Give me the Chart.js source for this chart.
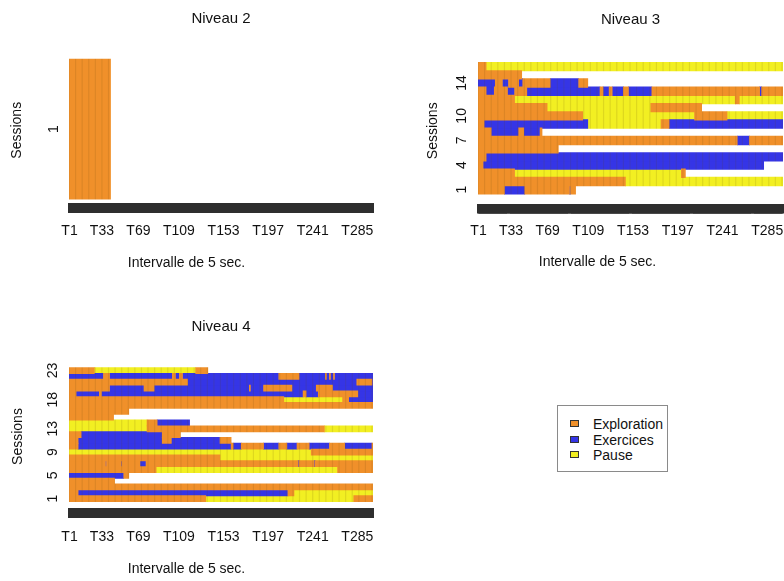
<!DOCTYPE html>
<html lang="fr">
<head>
<meta charset="utf-8">
<title>Sessions par niveau</title>
<script src="https://cdn.jsdelivr.net/npm/chart.js@4.4.1/dist/chart.umd.min.js"></script>
<style>
  html, body { margin: 0; padding: 0; background: #fff; }
  body { width: 784px; height: 581px; position: relative; overflow: hidden;
         font-family: "Liberation Sans", Arial, Helvetica, sans-serif; }
  canvas.panneau { position: absolute; }
  .legende { position: absolute; left: 557px; top: 405px; width: 111px; height: 67px;
             border: 1px solid #8a8a8a; box-sizing: border-box; font-size: 14px; color: #111; }
  .legende .item { position: absolute; left: 0; height: 16px; line-height: 16px; white-space: nowrap; }
  .legende .carre { position: absolute; left: 12px; top: 4px; width: 9px; height: 7px;
                    border: 1px solid #333; box-sizing: border-box; }
  .legende .nom { position: absolute; left: 35px; top: 0; }
</style>
</head>
<body>
<div class="legende" id="legende"></div>
<script>
// Catégories d'activité et code utilisé dans les séquences
const categories = ['Exploration', 'Exercices', 'Pause'];
const codes = ['E', 'X', 'P'];
const couleurs = ['#f0902a', '#3535e6', '#f2ef22'];

// Axe des intervalles de 5 sec.
const nbIntervalles = 300;
const etiquettesT = ['T1', 'T33', 'T69', 'T109', 'T153', 'T197', 'T241', 'T285'];

// Sessions affichées sur l'axe vertical
const etiquettesN2 = [1];
const etiquettesN3 = [1, 4, 7, 10, 14];
const etiquettesN4 = [1, 5, 9, 13, 18, 23];

// Séquences par session (session 1 d'abord) : code + intervalle début-fin
const niveau2 = ['E1-41'];

const niveau3 = [
  'E1-26 X27-46 E47-90 X91 E92-96',
  'E1-145 P146-300',
  'E1-36 P37-200 E201-204',
  'E1-5 X6-281',
  'E1-8 X9-300',
  'E1-79',
  'E1-255 X256-267 E268-300',
  'E1-13 X14-40 E41-45 X46-61 E62-63',
  'E1-6 X7-108 P109-180 E181-188 X189-300',
  'E1-103 P104-213 E214-245 P246-300',
  'E1-68 P69-170 E171-220',
  'E1-36 P37-253 E254-257 P258-300',
  'E1-8 X9-16 E17-29 X30-36 E37-48 X49-120 E121-123 X124-129 E130-132 X133-143 E144-148 X149-171 E172-277 X278-279 E280-300',
  'X1-17 E18-24 X25-30 E31-40 X41-44 E45-71 X72-99 E100-108',
  'E1-43',
  'E1-8 P9-300'
];

const niveau4 = [
  'E1-135 P136-281 E282-300',
  'E1-9 X10-216 E217-222 P223-300',
  'E1-300',
  'E1-45',
  'X1-54 E55-59',
  'E1-86 P87-265 E266-300',
  'E1-36 X37 E38-51 X52 E53-70 X71-76 E77-226 X227 E228-242 X243 E244-300',
  'E1-149 P150-300',
  'P1-239 E240-300',
  'E1-9 X10-160 E161-162 X163-170 E171-192 X193-207 E208-215 X216-225 E226-237 X238-257 E258-272 X273-299 E300',
  'E1-9 X10-92 E93-101 X102-149 E150-160',
  'E1-12 X13-92 E93-110',
  'P1-77 E78-252 P253-300',
  'P1-77 E78-87 X88-119',
  'E1-44',
  'E1-59',
  'E1-300',
  'E1-212 P213-270 E271-276 X277-300',
  'E1-7 X8-30 E31-32 X33-231 E232-234 X235-246 E247-285 X286-300',
  'E1-40 X41-74 E75-84 X85-178 E179 X180-192 E193-220 X221-244 E245-260 X261-300',
  'E1-117 X118-284 E285-299 X300',
  'X1-34 E35-40 X41-102 E103-105 X106-109 E110-112 X113-207 E208-227 X228-253 E254 X255-257 E258 X259-261 E262 X263-300',
  'E1-25 P26-125 E126-137'
];

Chart.defaults.font.family = '"Liberation Sans", Arial, Helvetica, sans-serif';
Chart.defaults.font.size = 14;
Chart.defaults.color = '#111';

const colonnesEtiquetees = etiquettesT.map(t => Number(t.slice(1)));

// Transforme les séquences en barres flottantes, une liste par catégorie
function versBarres(sequences) {
  const parCat = codes.map(() => []);
  sequences.forEach((seq, i) => {
    seq.trim().split(/\s+/).forEach(run => {
      const m = run.match(/^([EXP])(\d+)(?:-(\d+))?$/);
      const debut = Number(m[2]);
      const fin = m[3] ? Number(m[3]) : debut;
      parCat[codes.indexOf(m[1])].push({ y: i + 1, x: [debut - 0.5, fin + 0.5] });
    });
  });
  return parCat;
}

// Pas de marge automatique autour des axes : la zone de tracé reste fixe
function sansMarge(s) {
  s.paddingLeft = 0;
  s.paddingRight = 0;
  s.paddingTop = 0;
  s.paddingBottom = 0;
}

// Fines stries verticales, visibles seulement sur les cellules colorées
const stries = {
  id: 'stries',
  afterDatasetsDraw(chart) {
    const { ctx, chartArea: a, scales: { x } } = chart;
    ctx.save();
    ctx.beginPath();
    ctx.rect(a.left, a.top, a.right - a.left, a.bottom - a.top);
    ctx.clip();
    ctx.globalCompositeOperation = 'source-atop';
    ctx.strokeStyle = 'rgba(90, 60, 0, 0.13)';
    ctx.lineWidth = 1.2;
    for (let v = 0.5; v <= nbIntervalles + 0.5; v += 6.5) {
      const px = x.getPixelForValue(v);
      ctx.beginPath();
      ctx.moveTo(px, a.top);
      ctx.lineTo(px, a.bottom);
      ctx.stroke();
    }
    ctx.restore();
  }
};

// Géométrie de chaque panneau (coordonnées relatives au canvas)
const panneaux = [
  { titre: 'Niveau 2', sequences: niveau2, etiquettes: etiquettesN2,
    x: 0, y: 0, l: 380, h: 290, gauche: 69, droite: 373, haut: 58, basBarres: 198,
    basZone: 202.5, bande: 10.5, titreY: 19, xlabY: 263, etiqY: 230, sessionsX: 17.5, padY: 11 },
  { titre: 'Niveau 3', sequences: niveau3, etiquettes: etiquettesN3,
    x: 412, y: 0, l: 372, h: 290, gauche: 66, droite: 371, haut: 58, basBarres: 198,
    basZone: 203.5, bande: 10, titreY: 20, xlabY: 262.5, etiqY: 230, sessionsX: 21, padY: 8 },
  { titre: 'Niveau 4', sequences: niveau4, etiquettes: etiquettesN4,
    x: 0, y: 300, l: 380, h: 281, gauche: 69, droite: 373, haut: 64.5, basBarres: 204.5,
    basZone: 208.5, bande: 9.5, titreY: 26.5, xlabY: 269, etiqY: 236, sessionsX: 18, padY: 8 }
];

function creerPanneau(p) {
  const canvas = document.createElement('canvas');
  canvas.className = 'panneau';
  canvas.width = p.l;
  canvas.height = p.h;
  canvas.style.left = p.x + 'px';
  canvas.style.top = p.y + 'px';
  document.body.appendChild(canvas);

  const n = p.sequences.length;
  const hauteurLigne = (p.basBarres - p.haut) / n;
  const yMin = 0.5 - (p.basZone - p.basBarres) / hauteurLigne;
  const barres = versBarres(p.sequences);

  new Chart(canvas, {
    type: 'bar',
    plugins: [stries],
    data: {
      datasets: categories.map((nom, i) => ({
        label: nom,
        data: barres[i],
        backgroundColor: couleurs[i],
        borderWidth: 0,
        grouped: false,
        barThickness: hauteurLigne
      }))
    },
    options: {
      indexAxis: 'y',
      responsive: false,
      animation: false,
      layout: { padding: { left: 0, top: 0, bottom: 0, right: p.l - p.droite } },
      plugins: {
        legend: { display: false },
        tooltip: { enabled: false },
        title: {
          display: true,
          text: 'Intervalle de 5 sec.',
          position: 'bottom',
          font: { size: 14, weight: 'normal' },
          color: '#111',
          padding: { top: 0, bottom: p.h - p.xlabY - 8.4 }
        }
      },
      scales: {
        x: {
          type: 'linear',
          position: 'bottom',
          min: 0.5,
          max: nbIntervalles + 0.5,
          afterBuildTicks: s => {
            s.ticks = Array.from({ length: nbIntervalles }, (_, i) => ({ value: i + 1 }));
          },
          afterFit: s => { s.height = p.xlabY - 8.4 - p.basZone; sansMarge(s); },
          border: { display: false },
          grid: {
            display: true,
            drawOnChartArea: false,
            drawTicks: true,
            tickLength: p.bande,
            tickColor: '#2e2e2e',
            tickWidth: 3
          },
          ticks: {
            autoSkip: false,
            maxRotation: 0,
            minRotation: 0,
            padding: p.etiqY - 7 - (p.basZone + p.bande),
            color: '#111',
            callback: v => {
              const k = colonnesEtiquetees.indexOf(v);
              return k >= 0 ? etiquettesT[k] : '';
            }
          }
        },
        titre: {
          type: 'linear',
          position: 'top',
          display: true,
          min: 0,
          max: 1,
          afterFit: s => { s.height = p.haut; sansMarge(s); },
          border: { display: false },
          grid: { display: false, drawTicks: false },
          ticks: { display: false },
          title: {
            display: true,
            text: p.titre,
            color: '#111',
            font: { size: 15 },
            padding: { top: p.titreY - 9, bottom: 0 }
          }
        },
        y: {
          type: 'linear',
          position: 'left',
          min: yMin,
          max: n + 0.5,
          afterBuildTicks: s => {
            s.ticks = Array.from({ length: n }, (_, i) => ({ value: i + 1 }));
          },
          afterFit: s => { s.width = p.gauche; sansMarge(s); },
          border: { display: false },
          grid: { display: false, drawTicks: false },
          ticks: {
            autoSkip: false,
            minRotation: 90,
            maxRotation: 90,
            crossAlign: 'center',
            padding: p.padY,
            color: '#111',
            callback: v => (p.etiquettes.includes(v) ? String(v) : '')
          },
          title: {
            display: true,
            text: 'Sessions',
            color: '#111',
            font: { size: 14 },
            padding: { top: p.sessionsX - 8.4, bottom: 0 }
          }
        }
      }
    }
  });
}

panneaux.forEach(creerPanneau);

// Légende
const legende = document.getElementById('legende');
categories.forEach((nom, i) => {
  const item = document.createElement('div');
  item.className = 'item';
  item.style.top = (10 + i * 15.5) + 'px';
  item.style.width = '100%';
  item.innerHTML = '<span class="carre" style="background:' + couleurs[i] + '"></span>' +
                   '<span class="nom">' + nom + '</span>';
  legende.appendChild(item);
});
</script>
</body>
</html>
